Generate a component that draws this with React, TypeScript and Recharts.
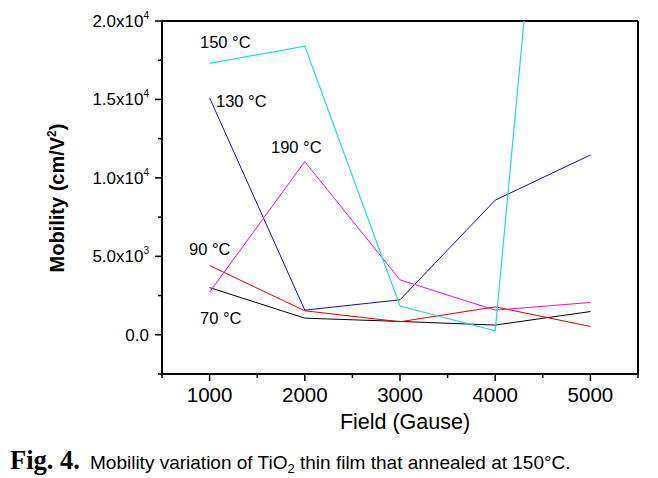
import React from 'react';
import { LineChart, Line, XAxis, YAxis, ReferenceLine } from 'recharts';

const fields = [1000, 2000, 3000, 4000, 5000];
const mob70 = [3010, 1060, 850, 620, 1480];
const mob90 = [4410, 1530, 830, 1780, 530];
const mob130 = [15100, 1570, 2230, 8580, 11460];
const mob150 = [17300, 18400, 1830, 250, 65600];
const mob190 = [2720, 11040, 3500, 1570, 2060];

const xTicks = [500, 1000, 1500, 2000, 2500, 3000, 3500, 4000, 4500, 5000, 5500];
const xMajor = [1000, 2000, 3000, 4000, 5000];
const yTicks = [-2500, 0, 2500, 5000, 7500, 10000, 12500, 15000, 17500, 20000];
const yLabels: Record<number, [string, string]> = {
  0: ['0.0', ''],
  5000: ['5.0x10', '3'],
  10000: ['1.0x10', '4'],
  15000: ['1.5x10', '4'],
  20000: ['2.0x10', '4'],
};

const seriesLabels = [
  { text: '150 °C', x: 200, y: 48 },
  { text: '130 °C', x: 216, y: 107 },
  { text: '190 °C', x: 271, y: 153 },
  { text: '90 °C', x: 189, y: 255 },
  { text: '70 °C', x: 200, y: 324 },
];

const data = fields.map((f, i) => ({
  field: f,
  t70: mob70[i],
  t90: mob90[i],
  t130: mob130[i],
  t150: mob150[i],
  t190: mob190[i],
}));

const FONT = '"Liberation Sans", Arial, Helvetica, sans-serif';

const YTick = (props: any) => {
  const { x, y, payload } = props;
  const v = payload.value;
  const lab = yLabels[v];
  const major = !!lab;
  return (
    <g>
      <line x1={x} x2={x - (major ? 7 : 4)} y1={y} y2={y} stroke="#000" strokeWidth={1.5} />
      {lab && (
        <text x={x - 13} y={y + 6} textAnchor="end" fontFamily={FONT} fontSize={17} fill="#000">
          {lab[0]}
          {lab[1] && (
            <tspan dy={-8} fontSize={10}>
              {lab[1]}
            </tspan>
          )}
        </text>
      )}
    </g>
  );
};

const XTick = (props: any) => {
  const { x, y, payload } = props;
  const v = payload.value;
  const major = xMajor.includes(v);
  return (
    <g>
      <line x1={x} x2={x} y1={y} y2={y + (major ? 7 : 4)} stroke="#000" strokeWidth={1.5} />
      {major && (
        <text x={x} y={y + 28} textAnchor="middle" fontFamily={FONT} fontSize={20.5} fill="#000">
          {v}
        </text>
      )}
    </g>
  );
};

export default function App() {
  return (
    <div style={{ position: 'absolute', left: 0, top: 0, width: 658, height: 478, background: '#fff' }}>
      <LineChart width={658} height={478} data={data} margin={{ top: 21, right: 20, left: 0, bottom: 74 }}>
        <XAxis
          dataKey="field"
          type="number"
          domain={[500, 5500]}
          ticks={xTicks}
          interval={0}
          allowDataOverflow
          height={30}
          tickSize={0}
          tickMargin={0}
          tickLine={false}
          axisLine={{ stroke: '#000', strokeWidth: 2 }}
          tick={<XTick />}
        />
        <YAxis
          type="number"
          domain={[-2500, 20000]}
          ticks={yTicks}
          interval={0}
          allowDataOverflow
          width={162}
          tickSize={0}
          tickMargin={0}
          tickLine={false}
          axisLine={{ stroke: '#000', strokeWidth: 2 }}
          tick={<YTick />}
        />
        <ReferenceLine y={20000} stroke="#000" strokeWidth={2} ifOverflow="visible" />
        <ReferenceLine x={5500} stroke="#000" strokeWidth={2} ifOverflow="visible" />
        <Line dataKey="t70" stroke="#000000" strokeWidth={1} dot={false} isAnimationActive={false} />
        <Line dataKey="t90" stroke="#E00000" strokeWidth={1} dot={false} isAnimationActive={false} />
        <Line dataKey="t130" stroke="#1010A8" strokeWidth={1} dot={false} isAnimationActive={false} />
        <Line dataKey="t190" stroke="#E010E0" strokeWidth={1} dot={false} isAnimationActive={false} />
        <Line dataKey="t150" stroke="#20DCDC" strokeWidth={1.2} dot={false} isAnimationActive={false} />
      </LineChart>
      <svg
        width={658}
        height={478}
        style={{ position: 'absolute', left: 0, top: 0, pointerEvents: 'none' }}
      >
        {seriesLabels.map((s) => (
          <text key={s.text} x={s.x} y={s.y} fontFamily={FONT} fontSize={16.5} fill="#000">
            {s.text}
          </text>
        ))}
        <text
          x={0}
          y={0}
          transform="translate(64,198) rotate(-90)"
          textAnchor="middle"
          fontFamily={FONT}
          fontSize={20}
          fontWeight="bold"
          fill="#000"
        >
          Mobility (cm/V
          <tspan dy={-8} fontSize={12}>2</tspan>
          <tspan dy={8}>)</tspan>
        </text>
        <text x={405} y={429} textAnchor="middle" fontFamily={FONT} fontSize={21.5} fill="#000">
          Field (Gause)
        </text>
        <text x={10} y={469} fontFamily={'"Liberation Serif", "Times New Roman", serif'} fontSize={26.5} fontWeight="bold" fill="#000">
          Fig. 4.
        </text>
        <text x={90} y={469} fontFamily={FONT} fontSize={19} fill="#000">
          Mobility variation of TiO
          <tspan dy={4} fontSize={13}>2</tspan>
          <tspan dy={-4}> thin film that annealed at 150°C.</tspan>
        </text>
      </svg>
    </div>
  );
}
